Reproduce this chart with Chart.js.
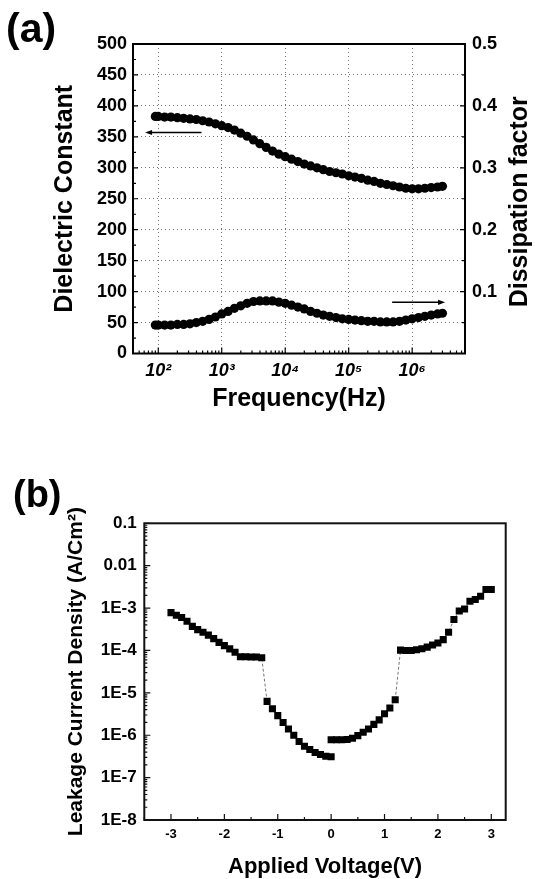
<!DOCTYPE html>
<html><head><meta charset="utf-8">
<script src="https://cdn.jsdelivr.net/npm/chart.js@4.4.1/dist/chart.umd.min.js"></script>
<style>
html,body{margin:0;padding:0;background:#fff;width:535px;height:879px;overflow:hidden;}
#wrapA{position:absolute;left:0;top:0;width:535px;height:440px;}
#wrapB{position:absolute;left:0;top:440px;width:535px;height:439px;}
canvas{display:block;}
.panel{position:absolute;font-family:"Liberation Sans",Arial,sans-serif;font-weight:bold;line-height:1;color:#000;}
</style></head><body>
<div id="wrapA"><canvas id="chartA" width="535" height="440"></canvas></div>
<div id="wrapB"><canvas id="chartB" width="535" height="439"></canvas></div>
<div class="panel" style="left:6px;top:8px;font-size:41px;">(a)</div>
<div class="panel" style="left:13px;top:475px;font-size:38px;">(b)</div>
<script>
// ---------- Panel (a) data ----------
const frequencyHz = [90, 100, 126, 158, 200, 251, 316, 398, 501, 631, 794,
  1000, 1259, 1585, 1995, 2512, 3162, 3981, 5012, 6310, 7943,
  10000, 12589, 15849, 19953, 25119, 31623, 39811, 50119, 63096, 79433,
  100000, 125893, 158489, 199526, 251189, 316228, 398107, 501187, 630957, 794328,
  1000000, 1258925, 1584893, 1995262, 2511886, 3000000];
const dielectricConstant = [383, 383, 382, 382, 381, 380, 379, 378, 376, 374, 371,
  368, 365, 361, 356, 351, 345, 339, 333, 327, 322,
  318, 314, 310, 306, 303, 300, 297, 294, 292, 290,
  287, 285, 283, 280, 278, 275, 273, 271, 269, 267,
  266, 266, 267, 268, 269, 270];
const dissipationFactor = [0.046, 0.046, 0.046, 0.046, 0.047, 0.047, 0.048, 0.050, 0.052, 0.055, 0.059,
  0.064, 0.068, 0.073, 0.077, 0.081, 0.084, 0.085, 0.085, 0.085, 0.083,
  0.081, 0.078, 0.075, 0.072, 0.068, 0.065, 0.062, 0.060, 0.058, 0.056,
  0.055, 0.054, 0.053, 0.052, 0.052, 0.051, 0.051, 0.051, 0.052, 0.054,
  0.056, 0.058, 0.060, 0.062, 0.064, 0.065];
const freqTickValues = [100, 1000, 10000, 100000, 1000000];
const freqTickLabels = ['10²', '10³', '10⁴', '10⁵', '10⁶'];
const dielTickValues = [0, 50, 100, 150, 200, 250, 300, 350, 400, 450, 500];
const dielTickLabels = ['0', '50', '100', '150', '200', '250', '300', '350', '400', '450', '500'];
const dissTickValues = [0.1, 0.2, 0.3, 0.4, 0.5];
const dissTickLabels = ['0.1', '0.2', '0.3', '0.4', '0.5'];
const arrowDielectric = {fromHz: 480, toHz: 62, value: 357};
const arrowDissipation = {fromHz: 484000, toHz: 3300000, value: 0.0826};

// ---------- Panel (b) data ----------
const voltageNeg = [-3.0, -2.9, -2.8, -2.7, -2.6, -2.5, -2.4, -2.3, -2.2, -2.1, -2.0, -1.9, -1.8, -1.7, -1.6, -1.5, -1.4, -1.3,
  -1.2, -1.1, -1.0, -0.9, -0.8, -0.7, -0.6, -0.5, -0.4, -0.3, -0.2, -0.1, 0.0];
const currentNeg = [7.8e-4, 6.8e-4, 6.0e-4, 4.9e-4, 3.7e-4, 3.1e-4, 2.7e-4, 2.3e-4, 1.9e-4, 1.55e-4, 1.3e-4, 1.09e-4, 9.1e-5, 7.1e-5, 7.1e-5, 7.0e-5, 7.0e-5, 6.7e-5,
  6.3e-6, 4.2e-6, 2.9e-6, 2.0e-6, 1.4e-6, 1.0e-6, 7.1e-7, 5.5e-7, 4.6e-7, 3.9e-7, 3.5e-7, 3.2e-7, 3.1e-7];
const voltagePos = [0.0, 0.1, 0.2, 0.3, 0.4, 0.5, 0.6, 0.7, 0.8, 0.9, 1.0, 1.1, 1.2,
  1.3, 1.4, 1.5, 1.6, 1.7, 1.8, 1.9, 2.0, 2.1, 2.2, 2.3, 2.4, 2.5, 2.6, 2.7, 2.8, 2.9, 3.0];
const currentPos = [7.8e-7, 7.8e-7, 7.8e-7, 7.9e-7, 8.5e-7, 9.8e-7, 1.17e-6, 1.4e-6, 1.8e-6, 2.3e-6, 3.2e-6, 4.4e-6, 6.9e-6,
  1.02e-4, 1.0e-4, 1.0e-4, 1.04e-4, 1.1e-4, 1.2e-4, 1.35e-4, 1.5e-4, 1.8e-4, 2.7e-4, 5.4e-4, 8.5e-4, 9.5e-4, 1.45e-3, 1.6e-3, 1.9e-3, 2.75e-3, 2.75e-3];
const voltTickValues = [-3, -2, -1, 0, 1, 2, 3];
const voltTickLabels = ['-3', '-2', '-1', '0', '1', '2', '3'];
const currentTickValues = [1e-8, 1e-7, 1e-6, 1e-5, 1e-4, 1e-3, 1e-2, 1e-1];
const currentTickLabels = ['1E-8', '1E-7', '1E-6', '1E-5', '1E-4', '1E-3', '0.01', '0.1'];

// ---------- common ----------
const FONT = '"Liberation Sans", Arial, Helvetica, sans-serif';
Chart.defaults.font.family = FONT;
Chart.defaults.color = '#000';

function pairs(xs, ys) { return xs.map((v, i) => ({x: v, y: ys[i]})); }

function drawArrow(ctx, x1, y1, x2, y2) {
  const ang = Math.atan2(y2 - y1, x2 - x1);
  const head = 7, half = 2.6;
  ctx.beginPath();
  ctx.lineWidth = 1.5;
  ctx.moveTo(x1, y1);
  ctx.lineTo(x2 - Math.cos(ang) * head * 0.8, y2 - Math.sin(ang) * head * 0.8);
  ctx.stroke();
  ctx.beginPath();
  ctx.moveTo(x2, y2);
  ctx.lineTo(x2 - Math.cos(ang) * head - Math.sin(ang) * half, y2 - Math.sin(ang) * head + Math.cos(ang) * half);
  ctx.lineTo(x2 - Math.cos(ang) * head + Math.sin(ang) * half, y2 - Math.sin(ang) * head - Math.cos(ang) * half);
  ctx.closePath();
  ctx.fill();
}

// ---------- Chart (a) ----------
const decorA = {
  id: 'decorA',
  afterDraw(chart) {
    const {ctx, chartArea: a, scales: {x, y, y1}} = chart;
    ctx.save();
    ctx.strokeStyle = '#000'; ctx.fillStyle = '#000';
    ctx.lineWidth = 1.2;
    ctx.beginPath();
    for (let v = 0; v <= 500; v += 25) {
      const py = y.getPixelForValue(v), len = v % 50 === 0 ? 5 : 3;
      ctx.moveTo(a.left, py); ctx.lineTo(a.left + len, py);
    }
    for (let i = 0; i <= 10; i++) {
      const py = y1.getPixelForValue(i * 0.05), len = i % 2 === 0 ? 5 : 3;
      ctx.moveTo(a.right, py); ctx.lineTo(a.right - len, py);
    }
    for (let d = 1; d <= 6; d++) for (let m = 1; m <= 9; m++) {
      const v = m * Math.pow(10, d);
      if (v < x.min || v > x.max) continue;
      const px = x.getPixelForValue(v), len = m === 1 ? 6 : 3;
      ctx.moveTo(px, a.bottom); ctx.lineTo(px, a.bottom - len);
    }
    ctx.stroke();
    ctx.lineWidth = 2;
    ctx.strokeRect(a.left, a.top, a.right - a.left, a.bottom - a.top);
    drawArrow(ctx, x.getPixelForValue(arrowDielectric.fromHz), y.getPixelForValue(arrowDielectric.value),
                   x.getPixelForValue(arrowDielectric.toHz), y.getPixelForValue(arrowDielectric.value));
    drawArrow(ctx, x.getPixelForValue(arrowDissipation.fromHz), y1.getPixelForValue(arrowDissipation.value),
                   x.getPixelForValue(arrowDissipation.toHz), y1.getPixelForValue(arrowDissipation.value));
    // right axis title, reading bottom-to-top
    ctx.translate(a.right + 55, (a.top + a.bottom) / 2 + 3);
    ctx.rotate(-Math.PI / 2);
    ctx.font = 'bold 25px ' + FONT;
    ctx.textAlign = 'center'; ctx.textBaseline = 'middle';
    ctx.fillText('Dissipation factor', 0, 0);
    ctx.restore();
  }
};

new Chart(document.getElementById('chartA'), {
  type: 'scatter',
  data: {
    datasets: [
      {label: 'Dielectric Constant', data: pairs(frequencyHz, dielectricConstant), yAxisID: 'y',
       pointRadius: 4.6, pointBackgroundColor: '#000', pointBorderColor: '#000', borderWidth: 0, showLine: false},
      {label: 'Dissipation factor', data: pairs(frequencyHz, dissipationFactor), yAxisID: 'y1',
       pointRadius: 4.6, pointBackgroundColor: '#000', pointBorderColor: '#000', borderWidth: 0, showLine: false}
    ]
  },
  options: {
    responsive: false, animation: false,
    layout: {padding: {top: 44, left: 0, right: 0, bottom: 0}},
    plugins: {legend: {display: false}, tooltip: {enabled: false}},
    scales: {
      x: {
        type: 'logarithmic', position: 'bottom', min: 40, max: 6.8e6,
        afterBuildTicks: s => { s.ticks = freqTickValues.map(v => ({value: v})); },
        afterFit: s => { s.height = 86.5; },
        ticks: {autoSkip: false, maxRotation: 0, padding: 7, font: {size: 18, weight: 'bold', style: 'italic'},
                callback: (v, i) => freqTickLabels[i]},
        grid: {drawTicks: false, color: 'rgba(0,0,0,0.55)', lineWidth: 1},
        border: {display: false, dash: [1, 3]},
        title: {display: true, text: 'Frequency(Hz)', font: {size: 25, weight: 'bold'}, padding: {top: 0, bottom: 26}}
      },
      y: {
        type: 'linear', position: 'left', min: 0, max: 500,
        afterBuildTicks: s => { s.ticks = dielTickValues.map(v => ({value: v})); },
        afterFit: s => { s.width = 133; },
        ticks: {autoSkip: false, padding: 6, font: {size: 18, weight: 'bold'}, callback: (v, i) => dielTickLabels[i]},
        grid: {drawTicks: false, color: 'rgba(0,0,0,0.55)', lineWidth: 1},
        border: {display: false, dash: [1, 3]},
        title: {display: true, text: 'Dielectric Constant', font: {size: 25, weight: 'bold'}, padding: {top: 50, bottom: 0}}
      },
      y1: {
        type: 'linear', position: 'right', min: 0, max: 0.5,
        afterBuildTicks: s => { s.ticks = dissTickValues.map(v => ({value: v})); },
        afterFit: s => { s.width = 70; },
        ticks: {autoSkip: false, padding: 7, font: {size: 18, weight: 'bold'}, callback: (v, i) => dissTickLabels[i]},
        grid: {display: false, drawOnChartArea: false, drawTicks: false},
        border: {display: false}
      }
    }
  },
  plugins: [decorA]
});

// ---------- Chart (b) ----------
const decorB = {
  id: 'decorB',
  afterDraw(chart) {
    const {ctx, chartArea: a, scales: {x, y}} = chart;
    ctx.save();
    ctx.strokeStyle = '#111';
    ctx.lineWidth = 1.2;
    ctx.beginPath();
    for (let d = -8; d <= -1; d++) for (let m = 1; m <= 9; m++) {
      const v = m * Math.pow(10, d);
      if (v > y.max * 1.0001) continue;
      const py = y.getPixelForValue(v), len = m === 1 ? 6 : 3;
      ctx.moveTo(a.left, py); ctx.lineTo(a.left + len, py);
    }
    for (let k = -7; k <= 6; k++) {
      const v = k * 0.5;
      if (v < x.min || v > x.max) continue;
      const px = x.getPixelForValue(v), len = k % 2 === 0 ? 6 : 3;
      ctx.moveTo(px, a.bottom); ctx.lineTo(px, a.bottom - len);
    }
    ctx.stroke();
    ctx.lineWidth = 2;
    ctx.strokeRect(a.left, a.top, a.right - a.left, a.bottom - a.top);
    ctx.restore();
  }
};

const sweepStyle = {pointStyle: 'rect', pointRadius: 5, pointBackgroundColor: '#000', pointBorderColor: '#000',
  pointBorderWidth: 0, showLine: true, borderColor: '#777', borderWidth: 1, borderDash: [3, 2]};

new Chart(document.getElementById('chartB'), {
  type: 'scatter',
  data: {
    datasets: [
      Object.assign({label: 'negative sweep', data: pairs(voltageNeg, currentNeg)}, sweepStyle),
      Object.assign({label: 'positive sweep', data: pairs(voltagePos, currentPos)}, sweepStyle)
    ]
  },
  options: {
    responsive: false, animation: false,
    layout: {padding: {top: 83.3, left: 0, right: 29.3, bottom: 0}},
    plugins: {legend: {display: false}, tooltip: {enabled: false}},
    scales: {
      x: {
        type: 'linear', position: 'bottom', min: -3.5, max: 3.27,
        afterBuildTicks: s => { s.ticks = voltTickValues.map(v => ({value: v})); },
        afterFit: s => { s.height = 59; },
        ticks: {autoSkip: false, maxRotation: 0, padding: 7, font: {size: 13, weight: 'bold'}, callback: (v, i) => voltTickLabels[i]},
        grid: {display: false, drawTicks: false},
        border: {display: false},
        title: {display: true, text: 'Applied Voltage(V)', font: {size: 22, weight: 'bold', lineHeight: 1.0}, padding: {top: 0, bottom: 1}}
      },
      y: {
        type: 'logarithmic', position: 'left', min: 1e-8, max: 0.1,
        afterBuildTicks: s => { s.ticks = currentTickValues.map(v => ({value: v})); },
        afterFit: s => { s.width = 144.3; },
        ticks: {autoSkip: false, padding: 7.6, font: {size: 17, weight: 'bold'}, callback: (v, i) => currentTickLabels[i]},
        grid: {display: false, drawTicks: false},
        border: {display: false},
        title: {display: true, text: 'Leakage Current Density (A/Cm²)', font: {size: 21, weight: 'bold'}, padding: {top: 64, bottom: 0}}
      }
    }
  },
  plugins: [decorB]
});
</script>
</body></html>
